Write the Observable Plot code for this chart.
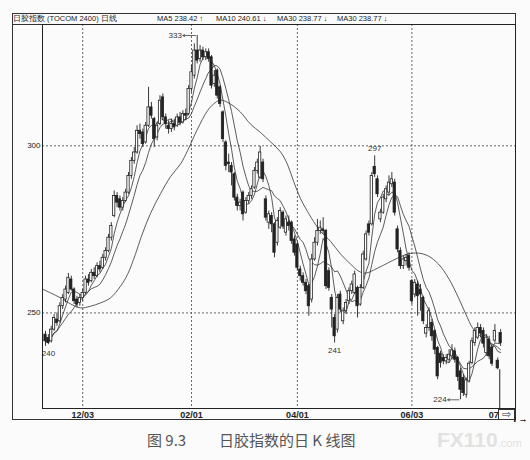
<!DOCTYPE html>
<html><head><meta charset="utf-8">
<script src="https://cdn.jsdelivr.net/npm/d3@7"></script>
<script src="https://cdn.jsdelivr.net/npm/@observablehq/plot@0.6"></script>
<style>
body{margin:0;background:#fbfbfb;}
#wrap{position:relative;width:530px;height:460px;overflow:hidden;font-family:"Liberation Sans",Arial,sans-serif;color:#222;}
#outer{position:absolute;left:12px;top:13px;width:504px;height:407px;box-sizing:border-box;border:1px solid #333;}
#sep{position:absolute;left:13px;top:24px;width:502px;height:1px;background:#333;}
.hd{position:absolute;top:14px;height:10px;line-height:10px;font-size:7.5px;white-space:nowrap;color:#222;}
#chart{position:absolute;left:0;top:0;}
#arrowbox{position:absolute;left:498px;top:409px;width:17px;height:11px;box-sizing:border-box;border:1px solid #333;background:#fff;font-size:11px;line-height:9px;text-align:center;color:#333;}
.cap{position:absolute;top:431px;font-family:"Noto Sans CJK SC",sans-serif;font-size:15px;line-height:18px;color:#555;white-space:nowrap;}
#wm{position:absolute;left:437px;top:428px;font-family:"Liberation Sans",Arial,sans-serif;font-weight:bold;font-size:21px;line-height:24px;color:#e2e2e2;white-space:nowrap;}
#wm span{font-size:11px;font-weight:normal;}
</style></head>
<body><div id="wrap">
<div id="outer"></div>
<div id="sep"></div>
<div id="hdrs"></div>
<div id="chart"></div>
<div id="arrowbox">⇨</div>
<div class="cap" style="left:147px">图 9.3</div>
<div class="cap" style="left:219px">日胶指数的日 K 线图</div>
<div id="wm">FX110<span>.com</span></div>
</div>
<script>
// ---- data ----
const open = [
243.5,242.5,241.5,245,248,247.5,252,254,256,260,
257,254,253,254.5,256,260,259.5,262,261,264,
263.5,266.5,268.5,272.5,279,285,284,281.5,283.5,286,
291,295.5,298,304.5,304,301,306,311.5,308,302.5,
306.5,314.5,308.5,306,305,306.5,306,308.5,307,309.5,
309.5,317,321,328.5,326,328.5,326.5,328,326.5,318.5,
322.5,317.5,310,301,295,294,291.5,284.5,282,286,
280,283.5,285,287.5,292.5,290.5,295,284,277,279,
276.5,271,275.5,280,274,277,277,272,270.5,263,
261,259,258,254,266,271,274.5,275,274.5,262.5,
254.5,248.5,245,255.5,247.5,250.5,253.5,256.5,256,257.5,
252.5,257.5,266,276.5,276.5,293.7,290,278,280,284,
286,288.5,289,275,268.5,264,265.5,267,259.5,255.5,
258.5,257,254.5,243.8,245.5,247,244.5,239.5,237.8,236.5,
235.5,236,237,238.5,236.5,232.5,230.5,225.5,229.5,235,
241,242.6,245.5,244.6,238,242,239.6,241.7,235.7,244
];
const close = [
241.5,241,245,248.5,247,252,254.5,257,260.5,257,
253.5,252.5,254.5,256,260,259,262,261,264,263,
266.5,268.5,272.5,276,285,283,281.5,283.5,286,291,
295.5,298,304.5,303.5,300.5,306,311.5,309,302,306,
313.5,308.5,306.5,305,306.5,305.5,308.5,307,309.5,309,
317,322,328.5,325.5,328.5,326.5,328,326,318,321,
315,312.5,302,294,294.5,292,284.5,282,283,279.5,
283.5,285,287,292.5,295,298,290,278.5,279.5,276.5,
268,277.5,280.5,276,278,276,271.5,268,263.5,261,
259,256.5,252,266,271,274.5,275.5,274.5,258,257.5,
251,243,254.5,251,250.5,253,256.5,258.5,261.5,252,
257.5,267.5,273.5,274,291,291.5,285.5,280,284.5,287,
289,290,280,269,264,266,266.5,263.5,253.5,259,
255,255.5,247.5,245.5,250.5,243,239,231,235,235.5,
236.5,237.5,238.8,236,230.8,227,226,229.8,234.8,241.5,
244.6,245.5,243.8,240.8,242.6,237,234.8,244.6,233.4,241
];
const high = [
244.5,243.5,246,249.5,250,253,255.5,258,261.8,261,
257.5,255,255.5,257,261,261.5,263,263.5,265,265.5,
267.5,269.5,273.5,277,286.5,286,285,284.5,287,292,
296.5,299.5,306,306.5,305,307,317.5,313,308.5,307,
315,315.5,309.5,307.5,308,308,309.5,310,310.5,311,
318,324,330.5,333,330,329.5,329,329,327,322.5,
323,318,310.5,301.5,297.5,295,292,285.5,284,286.5,
284.5,286,288,293.5,296,299.8,296,285,280.5,280,
277,278.5,281.5,280.5,279,279,277.5,273,271,264,
262,260,258.5,267.5,272.5,278,277.5,278.5,275,263.5,
255.5,249.5,255.5,256.5,251.5,254,257.5,259.5,262.5,258,
258.5,268.5,274.5,277.5,292,297,291,281,285.5,288,
291,292,290,276,269.5,267,267.5,268,260,260,
259.5,258.5,255,246.5,251.5,248,245,240,238.5,237.5,
237.5,239,240.5,239.5,237,233.5,231.5,230.5,235.5,242.5,
245.5,247,246.5,245.5,243.5,243,240.5,246.5,236.5,245
];
const low = [
240,240.5,241,244.5,246,247,251,253,255.5,256.5,
252.5,251.5,252,253.5,255.5,258,259,260,260.5,262,
263,265.5,268,271.5,278.5,281.5,280.5,280.5,283,285.5,
290,294.5,297.5,302,299.5,300.5,305.5,308,299.5,301.5,
306,307.5,305,303.5,304,304.5,305.5,306,306.5,307.5,
309,316,320,324.5,325,325.5,325.5,325,317,317.5,
314,311.5,301,292.5,292,288,283.5,280.5,280.5,277.5,
279.5,282.5,284,287,291.5,290,289,277.5,275,274,
266.5,270,275,275,273,274.5,270.5,267,262.5,259.5,
258,255.5,249,253,265.5,270,273.5,273.5,257,256.5,
245.5,241,244,250,246.5,249.5,252.5,255.5,255.5,248.5,
252,257,265.5,273,276,290.5,284.5,277,279.5,283,
285,287.5,279,268,263,263,264,262.5,252.5,254.5,
249,250.5,246.5,242.5,244.5,241.5,237.5,230,233.5,234.5,
234.5,235,236,235,229.5,224,225,224.5,229,234.5,
240,242,242.5,239.5,237,236,234,241,233,240
];
// MA30 (bar position, value)
const ma30Pos = [-1.05,1.75,5.24,8.74,12.23,15.72,19.22,22.71,26.2,28.65,31.4,33.5,36.7,40.2,43.7,47.2,49.6,53.1,56.6,58.7,61.1,64.6,68.1,71.6,75.1,78.6,82.1,84.6,86.7,89.1,91.5,94.3,96.1,99.6,103.1,106.6,109.4,111.8,116.0,119.5,123.0,126.5,130.3,133.8,137.3,140.8,144.3,146.8,149.2,151.0,153.8,157.2,159];
const ma30Val = [257.1,256.0,254.5,252.7,251.5,252.0,253.0,254.5,258.0,261.5,267.5,272.9,279.8,285.7,290.8,294.6,298.5,305.0,310.5,312.5,313.7,312.5,310.1,306.5,304.0,301.2,298.2,294.3,289.3,284.2,280.4,276.5,274.4,271.4,267.6,264.6,262.5,261.9,263.4,264.9,266.4,267.6,267.9,267.0,264.6,260.4,254.5,249.7,245.5,243.8,241.7,240.2,239.0];
const xTickPos = [13, 51, 88, 128, 158];
const xTickLabels = ["12/03", "02/01", "04/01", "06/03", "07"];
const yTicks = [250, 300];
const markedBars = [53, 115, 101, 0, 145]; // 333 high, 297 high, 241 low, 240 low, 224 low
const cursorBar = 158;
const titleText = "日胶指数 (TOCOM 2400) 日线";
const maLabels = ["MA5 238.42 ↑", "MA10 240.61 ↓", "MA30 238.77 ↓", "MA30 238.77 ↓"];

// ---- header ----
const hdrLeft = [13, 157, 216, 277, 337];
const hdrs = document.getElementById("hdrs");
[titleText, ...maLabels].forEach((t, k) => {
  const d = document.createElement("div");
  d.className = "hd"; d.style.left = hdrLeft[k] + "px"; d.textContent = t;
  hdrs.appendChild(d);
});

// ---- chart ----
const N = Math.min(open.length, close.length, high.length, low.length);
const bars = d3.range(N).map(i => ({i, o: open[i], c: close[i], h: high[i], l: low[i]}));
const ma30 = ma30Pos.map((p, k) => ({i: p, v: ma30Val[k]}));
const yDom = [221.4, 336.3];
const ink = "#222";
const fmt = v => String(Math.round(v));
const bH = i => ({i, v: bars[i].h});
const bL = i => ({i, v: bars[i].l});
const tickLabel = d => xTickLabels[xTickPos.indexOf(d)];

const chart = Plot.plot({
  width: 530, height: 424,
  marginTop: 24, marginBottom: 16, marginLeft: 42, marginRight: 15,
  x: {type: "linear", domain: [-1.05, 164.2]},
  y: {domain: yDom},
  style: {background: "transparent", fontFamily: "Liberation Sans, Arial, sans-serif", fontSize: "8px", color: ink},
  marks: [
    Plot.gridY(yTicks, {stroke: "#555", strokeOpacity: 0.9, strokeDasharray: "2,2"}),
    Plot.gridX(xTickPos.slice(0, 4), {stroke: "#555", strokeOpacity: 0.9, strokeDasharray: "2,2"}),
    Plot.axisY(yTicks, {tickSize: 0, tickPadding: 2, fontSize: 8}),
    Plot.axisX(xTickPos.slice(0, 4), {tickSize: 0, tickPadding: 3, fontSize: 9, fontWeight: "bold", tickFormat: tickLabel}),
    Plot.axisX(xTickPos.slice(4), {tickSize: 0, tickPadding: 3, fontSize: 9, fontWeight: "bold", tickFormat: tickLabel, textAnchor: "end", dx: 1}),
    Plot.line(ma30, {x: "i", y: "v", curve: "catmull-rom", stroke: "#333", strokeWidth: 0.8, clip: true}),
    Plot.lineY(bars, Plot.windowY({k: 10, anchor: "end"}, {x: "i", y: "c", stroke: "#333", strokeWidth: 0.8})),
    Plot.lineY(bars, Plot.windowY({k: 5, anchor: "end"}, {x: "i", y: "c", stroke: "#333", strokeWidth: 0.8})),
    Plot.ruleX(bars, {x: "i", y1: "l", y2: "h", stroke: ink, strokeWidth: 0.9}),
    Plot.rect(bars, {x1: d => d.i - 0.4, x2: d => d.i + 0.4, y1: "o", y2: "c",
      fill: d => d.c >= d.o ? "#fff" : ink, stroke: ink, strokeWidth: 0.8}),
    Plot.ruleX([bL(cursorBar)], {x: "i", y1: "v", y2: () => yDom[0], stroke: ink, strokeWidth: 1, dx: 2}),
    // 333 high with arrow to the left
    Plot.arrow([bH(markedBars[0])], {x1: d => d.i - 0.5, y1: "v", x2: d => d.i - 5, y2: "v", bend: 0, headLength: 4, stroke: "#444", strokeWidth: 0.8}),
    Plot.text([bH(markedBars[0])], {x: d => d.i - 5, y: "v", text: d => fmt(d.v), textAnchor: "end", dx: -1, fontSize: 8, fill: "#333"}),
    // 297 high
    Plot.text([bH(markedBars[1])], {x: "i", y: "v", text: d => fmt(d.v), dy: -7, fontSize: 8, fill: "#333"}),
    // 241 low
    Plot.text([bL(markedBars[2])], {x: "i", y: "v", text: d => fmt(d.v), dy: 7, fontSize: 8, fill: "#333"}),
    // 240 low
    Plot.text([bL(markedBars[3])], {x: "i", y: "v", text: d => fmt(d.v), dy: 7, dx: 3, fontSize: 8, fill: "#333"}),
    // 224 low with arrow
    Plot.arrow([bL(markedBars[4])], {x1: d => d.i - 0.5, y1: "v", x2: d => d.i - 4.5, y2: "v", bend: 0, headLength: 4, stroke: "#444", strokeWidth: 0.8}),
    Plot.text([bL(markedBars[4])], {x: d => d.i - 4.5, y: "v", text: d => fmt(d.v), textAnchor: "end", dx: -1, fontSize: 8, fill: "#333"}),
    Plot.frame({stroke: ink})
  ]
});
document.getElementById("chart").appendChild(chart);
</script>
</body></html>
